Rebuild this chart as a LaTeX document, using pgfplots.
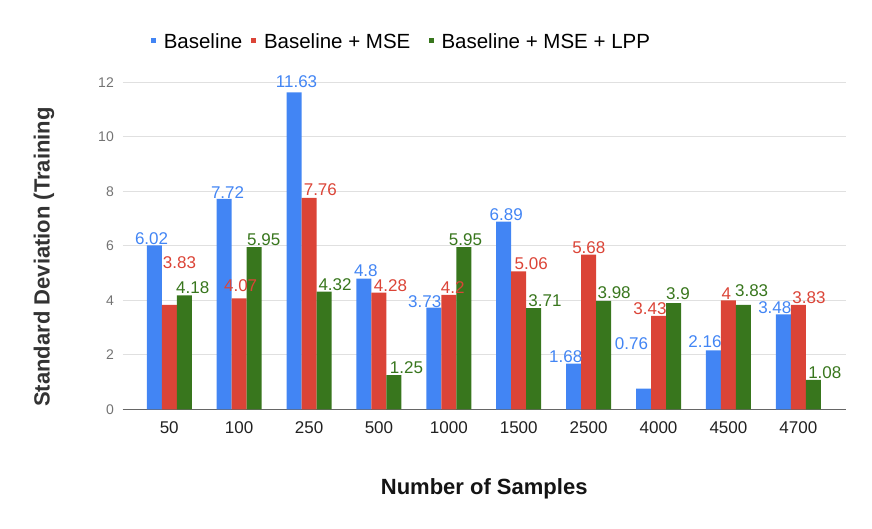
\documentclass[border=0pt]{standalone}
\usepackage{pgfplots}
\pgfplotsset{compat=1.18}
\usepackage{pgfplotstable}
\usepackage{fontspec}
\setmainfont{Liberation Sans}
\definecolor{cblue}{HTML}{4285F4}
\definecolor{cred}{HTML}{DB4437}
\definecolor{cgreen}{HTML}{38761D}
\definecolor{gridc}{HTML}{E0E0E0}
\definecolor{axisc}{HTML}{666666}

\pgfplotstableread{
x b bdx bdy r rdx rdy g gdx gdy
0 6.02 -2.7 7.0 3.83 10.2 41.9 4.18 8.5 8.2
1 7.72 3.4 6.6 4.07 1.5 12.7 5.95 9.6 7.7
2 11.63 2.5 11.0 7.76 11.3 7.7 4.32 11.0 7.3
3 4.8 1.9 7.7 4.28 11.5 7.0 1.25 12.5 7.5
4 3.73 -9.1 6.5 4.2 3.8 7.2 5.95 1.7 7.4
5 6.89 2.5 7.2 5.06 12.5 7.7 3.71 11.2 7.4
6 1.68 -7.9 7.0 5.68 0.2 7.0 3.98 10.5 8.0
7 0.76 -12.1 44.8 3.43 -8.5 6.8 3.9 4.5 9.0
8 2.16 -8.5 8.5 4 -2.1 6.9 3.83 8.2 14.0
9 3.48 -8.5 6.7 3.83 10.7 7.3 1.08 11.5 7.7
}\datatable

\begin{document}
\begin{tikzpicture}
\useasboundingbox (0,0) rectangle (872pt,528pt);
\begin{axis}[
  at={(122.7pt,118.7pt)}, anchor=south west,
  scale only axis, width=723pt, height=327pt,
  xmin=-0.666, xmax=9.678, ymin=0, ymax=12,
  clip=false,
  ybar=0pt, bar width=15pt,
  xtick={0,...,9},
  xticklabels={50,100,250,500,1000,1500,2500,4000,4500,4700},
  ytick={0,2,...,12},
  ymajorgrids, major grid style={draw=gridc, line width=1pt},
  axis x line*=bottom, axis y line*=left,
  x axis line style={draw=axisc, line width=1pt},
  y axis line style={draw=none},
  major tick length=0pt, tick style={draw=none},
  xticklabel style={font=\fontsize{17}{20}\selectfont, text=black!87, anchor=center, yshift=-18.2pt},
  yticklabel style={font=\fontsize{14}{16}\selectfont, text=black!55, anchor=east, inner sep=0pt, xshift=-8.7pt},
  xlabel={Number of Samples},
  xlabel style={at={(axis description cs:0.5,-0.262)}, anchor=base, font=\bfseries\fontsize{22}{26}\selectfont, text=black!92},
  ylabel={Standard Deviation (Training},
  ylabel style={at={(axis description cs:-0.1012,0.4657)}, anchor=base, font=\bfseries\fontsize{22}{26}\selectfont, text=black!80},
  legend columns=3,
  legend style={at={(axis description cs:0.0391,1.1232)}, anchor=west, draw=none, fill=none,
    inner sep=0pt, nodes={inner sep=0pt},
    font=\fontsize{20.5}{24}\selectfont,
    /tikz/every odd column/.append style={column sep=7.8pt},
    /tikz/column 2/.append style={column sep=9pt},
    /tikz/column 4/.append style={column sep=18.5pt}},
  legend image code/.code={\fill (0pt,-0.9pt) rectangle (4.8pt,3.9pt);},
  /pgf/number format/.cd, fixed, precision=2, assume math mode=true, /pgfplots/.cd,
]
\addplot[fill=cblue, draw=none,
  visualization depends on={\thisrow{bdx} \as \dx},
  visualization depends on={\thisrow{bdy} \as \dy},
  nodes near coords,
  every node near coord/.append style={text=cblue, font=\fontsize{17}{20}\selectfont, anchor=center, xshift=\dx pt, yshift=\dy pt}]
  table[x=x, y=b] {\datatable};
\addlegendentry{Baseline}
\addplot[fill=cred, draw=none,
  visualization depends on={\thisrow{rdx} \as \dx},
  visualization depends on={\thisrow{rdy} \as \dy},
  nodes near coords,
  every node near coord/.append style={text=cred, font=\fontsize{17}{20}\selectfont, anchor=center, xshift=\dx pt, yshift=\dy pt}]
  table[x=x, y=r] {\datatable};
\addlegendentry{Baseline + MSE}
\addplot[fill=cgreen, draw=none,
  visualization depends on={\thisrow{gdx} \as \dx},
  visualization depends on={\thisrow{gdy} \as \dy},
  nodes near coords,
  every node near coord/.append style={text=cgreen, font=\fontsize{17}{20}\selectfont, anchor=center, xshift=\dx pt, yshift=\dy pt}]
  table[x=x, y=g] {\datatable};
\addlegendentry{Baseline + MSE + LPP}
\end{axis}
\end{tikzpicture}
\end{document}
